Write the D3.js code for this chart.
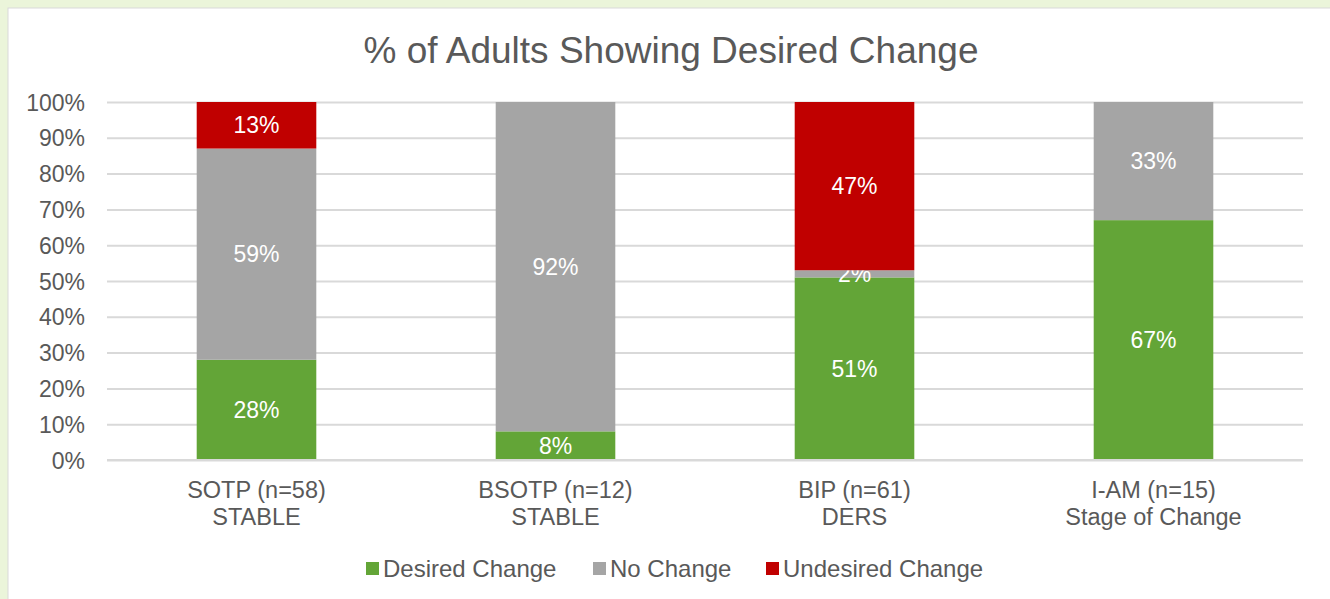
<!DOCTYPE html>
<html><head><meta charset="utf-8">
<script src="https://cdn.jsdelivr.net/npm/d3@7"></script>
<style>
html,body{margin:0;padding:0;background:#ebf5da;}
svg{display:block;font-family:Arial,"Liberation Sans",sans-serif;}
</style></head>
<body>
<svg id="c" width="1330" height="599"></svg>
<script>
const categories = [["SOTP (n=58)","STABLE"],["BSOTP (n=12)","STABLE"],["BIP (n=61)","DERS"],["I-AM (n=15)","Stage of Change"]];
const seriesNames = ["Desired Change","No Change","Undesired Change"];
const desired = [28, 8, 51, 67];
const noChange = [59, 92, 2, 33];
const undesired = [13, 0, 47, 0];
const tickValues = [0,10,20,30,40,50,60,70,80,90,100];
const colors = ["#63a537","#a5a5a5","#c00000"];

const svg = d3.select("#c");
svg.append("rect").attr("x",8).attr("y",8).attr("width",1330).attr("height",599).attr("fill","#fff").attr("stroke","#d9d9d9").attr("stroke-width",1);

const x = d3.scaleBand().domain(d3.range(categories.length)).range([107,1303]).paddingInner(0.6).paddingOuter(0.3);
const y = d3.scaleLinear().domain([0,100]).range([460,102]);
const txt = "#595959";

svg.append("text").attr("x",671).attr("y",63).attr("text-anchor","middle").attr("font-size",37).attr("fill",txt).text("% of Adults Showing Desired Change");

const yAxis = d3.axisLeft(y).tickValues(tickValues).tickSize(-(1303-107)).tickFormat(d=>d+"%").tickPadding(22);
const ga = svg.append("g").attr("transform","translate(107,0)").call(yAxis);
ga.select(".domain").remove();
ga.selectAll(".tick line").attr("stroke","#d9d9d9").attr("stroke-width",2);
ga.selectAll(".tick text").attr("font-size",23).attr("fill",txt).attr("dy","0.35em").attr("font-family","Arial,'Liberation Sans',sans-serif");

const data = categories.map((c,i)=>({i, "Desired Change":desired[i], "No Change":noChange[i], "Undesired Change":undesired[i]}));
const stack = d3.stack().keys(seriesNames)(data);

stack.forEach((s,k)=>{
  const g = svg.append("g");
  g.selectAll("rect").data(s.filter(d=>d[1]-d[0]>0)).join("rect")
    .attr("x",d=>x(d.data.i)).attr("width",x.bandwidth())
    .attr("y",d=>y(d[1])).attr("height",d=>y(d[0])-y(d[1]))
    .attr("fill",colors[k]);
  g.selectAll("text").data(s.filter(d=>d[1]-d[0]>0)).join("text")
    .attr("x",d=>x(d.data.i)+x.bandwidth()/2)
    .attr("y",d=>(y(d[0])+y(d[1]))/2+8)
    .attr("text-anchor","middle").attr("font-size",23).attr("fill","#fff")
    .text(d=>(d[1]-d[0])+"%");
});

svg.append("line").attr("x1",107).attr("x2",1303).attr("y1",y(0)).attr("y2",y(0)).attr("stroke","#d9d9d9").attr("stroke-width",2);

categories.forEach((c,i)=>{
  const t = svg.append("text").attr("text-anchor","middle").attr("font-size",23.5).attr("fill",txt);
  c.forEach((line,j)=>t.append("tspan").attr("x",x(i)+x.bandwidth()/2).attr("y",498+j*27).text(line));
});

const legend = [[366,"Desired Change"],[593,"No Change"],[766,"Undesired Change"]];
legend.forEach(([lx,name],k)=>{
  svg.append("rect").attr("x",lx).attr("y",562).attr("width",13).attr("height",13).attr("fill",colors[seriesNames.indexOf(name)]);
  svg.append("text").attr("x",lx+17).attr("y",577).attr("font-size",24).attr("fill",txt).text(name);
});
</script>
</body></html>
